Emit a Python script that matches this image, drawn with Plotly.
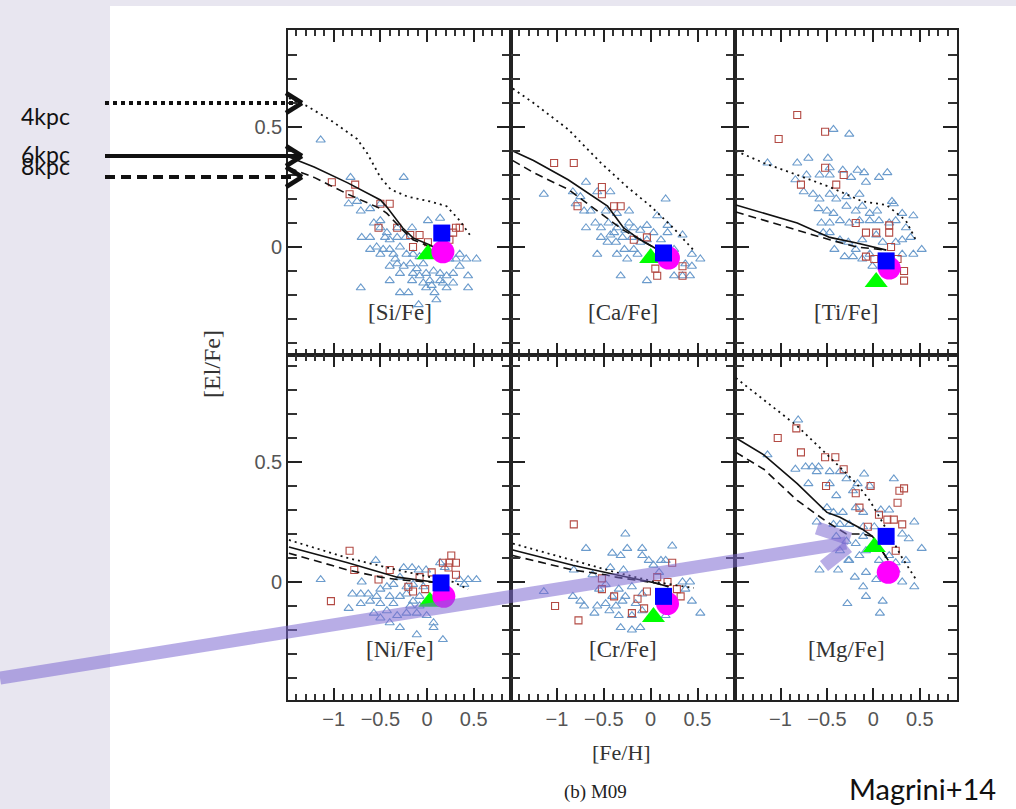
import plotly.graph_objects as go

W, H = 1016, 809

# ---------------- data ----------------
elements = ["Si", "Ca", "Ti", "Ni", "Cr", "Mg"]

# open blue triangles (field / Gaia-ESO stars)
tri_x = {
    "Si": [-1.14, -0.82, -0.25, -0.84, -0.75, -0.71, -0.61, -0.50, -0.70, -0.61, -0.57, -0.50, -0.43, -0.54, -0.47, -0.40,
           -0.36, -0.32, -0.29, -0.23, -0.16, -0.15, -0.40, -0.32, -0.25, -0.18, -0.11, -0.04, 0.01, 0.14, -0.08, -0.01,
           0.07, 0.14, 0.21, 0.28, 0.35, 0.42, 0.53, 0.35, 0.44, 0.28, 0.17, 0.05, -0.01, 0.08, 0.10, 0.21, -0.29, -0.20,
           -0.40, -0.71, 0.44, -0.08, -0.50, -0.29, -0.15, -0.09, 0.24, 0.31, -0.34, -0.22, 0.03, 0.14, -0.04, -0.16,
           -0.40, -0.45, -0.50, -0.61, -0.32],
    "Ca": [-1.14, -0.83, -0.69, -0.75, -0.57, -0.43, -0.80, -0.71, -0.64, -0.48, -0.36, -0.23, -0.69, -0.59, -0.53, -0.45,
           -0.39, -0.46, -0.37, -0.30, -0.23, -0.18, -0.11, -0.04, 0.03, 0.18, 0.07, 0.16, 0.18, 0.34, -0.57, -0.36,
           -0.28, -0.25, -0.18, -0.14, -0.11, -0.04, -0.32, -0.04, 0.25, 0.34, 0.42, 0.44, 0.53, 0.44, 0.37, -0.20,
           -0.43, -0.53, -0.36, -0.27, 0.11, 0.25],
    "Ti": [-0.43, -0.26, -1.14, -0.82, -0.70, -0.49, -0.47, -0.33, -0.17, -0.10, 0.06, 0.15, -0.84, -0.72, -0.58, -0.47,
           -0.24, -0.08, -0.75, -0.65, -0.58, -0.47, -0.40, -0.29, -0.15, -0.29, -0.19, -0.12, -0.04, 0.04, 0.20, 0.22,
           0.31, 0.43, 0.40, 0.52, 0.43, -0.59, -0.50, -0.43, -0.56, -0.47, -0.36, -0.26, -0.15, -0.04, 0.06, 0.17,
           0.24, 0.35, -0.42, -0.36, -0.27, -0.19, -0.12, -0.04, 0.03, 0.10, 0.24, 0.31, 0.31, -0.01, -0.12, -0.22,
           -0.31, -0.54, -0.47],
    "Ni": [-1.14, -0.84, -0.70, -0.55, -0.80, -0.71, -0.63, -0.54, -0.50, -0.43, -0.36, -0.25, -0.16, -0.09, -0.01, 0.14,
           0.19, 0.35, 0.44, 0.53, 0.40, -0.50, -0.43, -0.36, -0.29, -0.22, -0.15, -0.08, -0.32, -0.22, -0.11, -0.004,
           0.07, -0.40, -0.29, -0.11, 0.07, 0.17, -0.57, -0.50, -0.22, -0.15, -0.29, -0.04, -0.40, -0.18, -0.08, -0.61,
           -0.71],
    "Cr": [-0.27, -0.69, -0.41, -0.32, -0.25, -0.09, -0.09, 0.23, -0.02, 0.11, 0.16, -0.43, -0.29, -0.82, -0.62, 0.03,
           0.09, -1.14, -0.83, -0.75, -0.71, -0.60, -0.57, -0.48, -0.41, -0.34, -0.27, -0.20, -0.09, -0.48, -0.37, -0.34,
           -0.32, -0.20, -0.11, -0.20, -0.09, 0.34, 0.42, 0.37, 0.44, 0.53, 0.16, -0.44, -0.30, -0.16, -0.55],
    "Mg": [-0.81, -1.14, -0.84, -0.73, -0.66, -0.59, -0.70, -0.61, -0.47, -0.36, -0.47, -0.29, -0.10, 0.22, -0.17, -0.04,
           -0.22, -0.40, -0.50, -0.43, -0.33, -0.19, -0.11, 0.08, 0.17, -0.61, -0.43, -0.36, -0.26, -0.11, 0.01, 0.44,
           0.31, 0.38, 0.52, -0.40, -0.29, -0.19, -0.11, -0.36, -0.26, -0.15, -0.08, -0.58, -0.38, -0.27, -0.20, -0.08,
           0.03, 0.24, 0.31, 0.44, -0.11, -0.08, -0.28, 0.10, 0.07, 0.24, 0.17, 0.06, 0.35],
}
tri_y = {
    "Si": [0.446, 0.29, 0.29, 0.18, 0.19, 0.15, 0.16, 0.18, 0.04, 0.04, 0.10, 0.08, 0.06, 0.00, -0.01, 0.03,
           -0.03, 0.08, 0.00, 0.04, 0.08, -0.03, -0.08, -0.07, -0.08, -0.07, -0.09, -0.07, 0.11, 0.12, -0.12, -0.11,
           -0.10, -0.11, -0.12, -0.11, -0.08, -0.05, -0.05, -0.03, -0.12, -0.15, -0.15, -0.16, -0.17, -0.19, -0.22, -0.17,
           -0.19, -0.19, -0.14, -0.17, -0.17, -0.04, -0.03, -0.11, -0.11, -0.24, -0.05, -0.05, -0.05, -0.03, -0.14, -0.14,
           -0.15, -0.14, -0.01, 0.04, 0.11, -0.01, 0.04],
    "Ca": [0.22, 0.23, 0.27, 0.21, 0.23, 0.23, 0.18, 0.15, 0.15, 0.15, 0.14, 0.15, 0.08, 0.10, 0.08, 0.10,
           0.06, 0.02, 0.02, 0.04, 0.10, 0.08, 0.07, 0.09, 0.06, 0.06, 0.13, 0.20, 0.09, 0.05, -0.03, -0.03,
           -0.01, -0.05, -0.01, -0.03, 0.02, 0.03, -0.12, -0.14, -0.12, -0.12, -0.12, -0.08, -0.05, -0.03, -0.07, 0.04,
           0.05, 0.04, 0.08, 0.07, 0.03, -0.01],
    "Ti": [0.49, 0.47, 0.35, 0.35, 0.37, 0.37, 0.33, 0.32, 0.32, 0.31, 0.29, 0.31, 0.28, 0.30, 0.30, 0.30,
           0.29, 0.27, 0.23, 0.22, 0.20, 0.22, 0.20, 0.21, 0.22, 0.17, 0.15, 0.17, 0.14, 0.15, 0.19, 0.18,
           0.14, 0.13, 0.04, -0.01, -0.03, 0.16, 0.15, 0.14, 0.10, 0.10, 0.11, 0.10, 0.11, 0.11, 0.11, 0.10,
           0.11, 0.08, -0.01, 0.03, 0.02, -0.01, 0.03, -0.03, 0.05, 0.02, 0.02, 0.03, -0.03, -0.08, -0.05, -0.04,
           -0.04, 0.06, 0.06],
    "Ni": [0.01, -0.11, 0.00, 0.09, -0.05, -0.05, -0.05, -0.06, -0.03, -0.02, -0.01, 0.06, 0.06, 0.05, 0.05, 0.08,
           0.06, 0.01, 0.01, 0.01, -0.01, -0.09, -0.12, -0.09, -0.06, -0.05, -0.08, -0.06, -0.14, -0.13, -0.13, -0.14,
           -0.17, -0.17, -0.19, -0.22, -0.19, -0.24, -0.13, -0.15, -0.02, -0.01, 0.02, -0.02, -0.06, -0.10, -0.10, -0.08,
           -0.09],
    "Cr": [0.20, 0.14, 0.12, 0.11, 0.14, 0.14, 0.11, 0.15, 0.09, 0.09, 0.09, 0.06, 0.05, 0.05, 0.03, 0.07,
           0.04, -0.04, -0.06, -0.08, -0.10, -0.13, -0.10, -0.09, -0.06, -0.03, -0.06, -0.02, -0.05, -0.01, -0.10, -0.14,
           -0.19, -0.20, -0.19, -0.14, -0.12, 0.00, 0.00, -0.03, -0.08, -0.13, -0.14, -0.12, -0.08, -0.09, -0.03],
    "Mg": [0.675, 0.53, 0.47, 0.48, 0.48, 0.48, 0.41, 0.46, 0.46, 0.46, 0.41, 0.43, 0.45, 0.43, 0.41, 0.40,
           0.38, 0.36, 0.31, 0.29, 0.29, 0.31, 0.29, 0.30, 0.30, 0.25, 0.24, 0.24, 0.24, 0.23, 0.23, 0.25,
           0.20, 0.18, 0.14, 0.19, 0.17, 0.16, 0.19, 0.13, 0.09, 0.11, 0.13, 0.05, 0.05, 0.09, 0.02, 0.04,
           0.01, 0.05, 0.00, -0.02, -0.02, -0.06, -0.09, -0.08, -0.13, 0.08, 0.11, 0.09, 0.09],
}

# open red squares (open clusters)
sq_x = {
    "Si": [-1.02, -0.77, -0.83, -0.50, -0.40, -0.52, -0.32, -0.18, -0.08, -0.15, 0.01, 0.28, 0.31, 0.35, 0.24],
    "Ca": [-1.03, -0.82, -0.52, -0.52, -0.78, -0.39, -0.32, -0.18, -0.04, 0.07, 0.34, 0.34, 0.05],
    "Ti": [-0.82, -1.02, -0.52, -0.52, -0.32, -0.40, -0.78, -0.19, -0.08, 0.03, 0.17, -0.08, 0.01, 0.19, 0.26, 0.33,
           0.33, 0.17],
    "Ni": [-0.83, -0.78, -1.03, -0.52, -0.40, -0.20, -0.15, -0.08, 0.05, 0.17, 0.23, 0.26, 0.31, 0.24, 0.31, -0.02],
    "Cr": [-0.82, 0.23, -0.52, -0.52, -1.02, -0.77, -0.39, -0.14, -0.07, -0.20, -0.04, 0.18, 0.28, 0.32, 0.07],
    "Mg": [-1.03, -0.83, -0.78, -0.52, -0.41, -0.32, -0.51, -0.19, -0.03, -0.15, 0.06, 0.15, 0.22, 0.26, 0.28, 0.33,
           0.31, -0.06, 0.24],
}
sq_y = {
    "Si": [0.27, 0.26, 0.22, 0.18, 0.18, 0.08, 0.08, 0.05, 0.05, 0.00, 0.02, 0.06, 0.08, 0.08, 0.03],
    "Ca": [0.35, 0.35, 0.25, 0.22, 0.17, 0.17, 0.17, 0.03, 0.04, -0.12, -0.12, -0.08, -0.09],
    "Ti": [0.55, 0.45, 0.48, 0.33, 0.30, 0.26, 0.26, 0.10, 0.06, 0.06, 0.09, -0.04, -0.05, 0.00, -0.05, -0.10,
           -0.14, 0.06],
    "Ni": [0.13, 0.05, -0.08, 0.01, 0.05, -0.02, -0.04, 0.02, 0.04, 0.08, 0.06, 0.11, 0.08, 0.08, 0.03, -0.03],
    "Cr": [0.24, 0.08, 0.015, -0.03, -0.10, -0.16, -0.06, -0.07, -0.11, -0.13, -0.04, 0.00, -0.03, -0.06, 0.02],
    "Mg": [0.60, 0.64, 0.54, 0.52, 0.52, 0.47, 0.40, 0.37, 0.40, 0.31, 0.28, 0.26, 0.26, 0.33, 0.38, 0.39,
           0.24, 0.23, 0.13],
}

# chemical evolution model curves at 4, 6 and 8 kpc
m4_x = {"Si": [-1.48, -1.30, -1.04, -0.75, -0.64, -0.50, -0.39, -0.21, 0.03, 0.21, 0.35, 0.46],
        "Ca": [-1.47, -1.25, -0.88, -0.53, -0.25, 0.0, 0.24, 0.45],
        "Ti": [-1.48, -1.18, -0.82, -0.47, -0.12, 0.14, 0.35, 0.47],
        "Ni": [-1.48, -0.85, -0.32, 0.03, 0.28, 0.44],
        "Cr": [-1.47, -0.83, -0.37, 0.05, 0.46],
        "Mg": [-1.48, -1.18, -0.82, -0.47, -0.18, -0.04, 0.17, 0.31, 0.46]}
m4_y = {"Si": [0.62, 0.59, 0.53, 0.45, 0.39, 0.29, 0.24, 0.21, 0.19, 0.17, 0.11, 0.05],
        "Ca": [0.66, 0.60, 0.49, 0.35, 0.25, 0.17, 0.08, -0.01],
        "Ti": [0.40, 0.35, 0.30, 0.25, 0.19, 0.175, 0.11, 0.02],
        "Ni": [0.175, 0.10, 0.05, 0.02, 0.0, -0.03],
        "Cr": [0.16, 0.09, 0.04, 0.0, -0.025],
        "Mg": [0.85, 0.76, 0.65, 0.52, 0.41, 0.34, 0.20, 0.10, 0.01]}
m6_x = {"Si": [-1.48, -1.21, -0.85, -0.50, -0.43, -0.26, -0.15, 0.03, 0.17],
        "Ca": [-1.47, -1.25, -0.88, -0.46, -0.29, -0.11, 0.14],
        "Ti": [-1.48, -1.18, -0.82, -0.47, -0.18, 0.14],
        "Ni": [-1.48, -0.85, -0.32, 0.15],
        "Cr": [-1.47, -0.83, -0.37, 0.05, 0.19],
        "Mg": [-1.48, -1.18, -0.82, -0.50, -0.36, -0.12, -0.01, 0.16]}
m6_y = {"Si": [0.375, 0.333, 0.267, 0.196, 0.167, 0.079, 0.038, 0.008, -0.02],
        "Ca": [0.40, 0.36, 0.28, 0.17, 0.08, 0.03, -0.025],
        "Ti": [0.175, 0.14, 0.10, 0.04, 0.017, -0.013],
        "Ni": [0.146, 0.08, 0.02, -0.004],
        "Cr": [0.133, 0.07, 0.03, -0.004, -0.02],
        "Mg": [0.60, 0.53, 0.41, 0.29, 0.27, 0.22, 0.19, 0.09]}
m8_x = {"Si": [-1.48, -1.21, -0.85, -0.50, -0.43, -0.26, -0.15, 0.03, 0.17],
        "Ca": [-1.47, -1.25, -0.88, -0.56, -0.43, -0.29, -0.11, 0.14],
        "Ti": [-1.48, -1.18, -0.82, -0.47, -0.18, 0.14],
        "Ni": [-1.48, -0.85, -0.50, -0.32, 0.15],
        "Cr": [-1.47, -0.83, -0.48, -0.37, 0.05, 0.19],
        "Mg": [-1.48, -1.18, -0.82, -0.50, -0.29, -0.12, -0.01, 0.16]}
m8_y = {"Si": [0.33, 0.29, 0.22, 0.16, 0.14, 0.07, 0.03, 0.0, -0.02],
        "Ca": [0.36, 0.31, 0.24, 0.15, 0.11, 0.07, 0.03, -0.025],
        "Ti": [0.146, 0.11, 0.07, 0.03, 0.0, -0.013],
        "Ni": [0.12, 0.05, 0.02, 0.01, -0.004],
        "Cr": [0.11, 0.05, 0.03, 0.02, -0.004, -0.02],
        "Mg": [0.54, 0.47, 0.34, 0.25, 0.20, 0.20, 0.19, 0.09]}

# big reference symbols: (x, y)
blue_sq = {"Si": (0.158, 0.058), "Ca": (0.137, -0.025), "Ti": (0.137, -0.058),
           "Ni": (0.15, -0.004), "Cr": (0.137, -0.06), "Mg": (0.137, 0.19)}
magenta_c = {"Si": (0.17, -0.02), "Ca": (0.19, -0.046), "Ti": (0.17, -0.088),
             "Ni": (0.18, -0.06), "Cr": (0.18, -0.09), "Mg": (0.16, 0.04)}
green_t = {"Si": (0.01, -0.03), "Ca": (0.0, -0.046), "Ti": (0.03, -0.146),
           "Ni": (0.03, -0.083), "Cr": (0.03, -0.146), "Mg": (0.01, 0.146)}

# ---------------- layout geometry ----------------
col_px = [(288, 511), (511, 735), (735, 957)]
row_px = [(30, 355), (355, 700)]
XR = [-1.49, 0.90]
YR = [[-0.45, 0.904], [-0.492, 0.946]]


def fx(p):
    return p / W


def fy(p):
    return 1 - p / H


def axname(letter, i):
    return letter if i == 0 else f"{letter}{i+1}"


def axkey(letter, i):
    return f"{letter}axis" if i == 0 else f"{letter}axis{i+1}"


fig = go.Figure()

TRI_C = "#6b9bcc"
SQ_C = "#b34a43"

for i, el in enumerate(elements):
    xa, ya = axname("x", i), axname("y", i)
    fig.add_trace(go.Scatter(x=tri_x[el], y=tri_y[el], mode="markers", xaxis=xa, yaxis=ya,
                             marker=dict(symbol="triangle-up-open", size=8, color=TRI_C, line=dict(width=1.1)),
                             showlegend=False, hoverinfo="skip"))
    fig.add_trace(go.Scatter(x=sq_x[el], y=sq_y[el], mode="markers", xaxis=xa, yaxis=ya,
                             marker=dict(symbol="square-open", size=7, color=SQ_C, line=dict(width=1.1)),
                             showlegend=False, hoverinfo="skip"))
    for mx, my, dash, lw in ((m4_x, m4_y, "2px,4px", 1.8), (m6_x, m6_y, "solid", 1.6), (m8_x, m8_y, "8px,5px", 1.6)):
        fig.add_trace(go.Scatter(x=mx[el], y=my[el], mode="lines", xaxis=xa, yaxis=ya,
                                 line=dict(color="#111", width=lw, dash=dash),
                                 showlegend=False, hoverinfo="skip"))
    fig.add_trace(go.Scatter(x=[green_t[el][0]], y=[green_t[el][1]], mode="markers", xaxis=xa, yaxis=ya,
                             marker=dict(symbol="triangle-up", size=20, color="#00ff00"),
                             showlegend=False, hoverinfo="skip"))
    fig.add_trace(go.Scatter(x=[magenta_c[el][0]], y=[magenta_c[el][1]], mode="markers", xaxis=xa, yaxis=ya,
                             marker=dict(symbol="circle", size=23, color="#ff00ff"),
                             showlegend=False, hoverinfo="skip"))
    fig.add_trace(go.Scatter(x=[blue_sq[el][0]], y=[blue_sq[el][1]], mode="markers", xaxis=xa, yaxis=ya,
                             marker=dict(symbol="square", size=17, color="#0000ff"),
                             showlegend=False, hoverinfo="skip"))

tickfont = dict(family="Liberation Sans", size=20, color="#555")

layout_axes = {}
for i, el in enumerate(elements):
    r, c = divmod(i, 3)
    l, rr = col_px[c]
    t, b = row_px[r]
    layout_axes[axkey("x", i)] = dict(
        domain=[fx(l), fx(rr)], range=XR, anchor=axname("y", i),
        showline=True, linecolor="#222", linewidth=1.6, mirror="ticks",
        ticks="inside", ticklen=12, tickwidth=2, tickcolor="#222",
        tick0=0, dtick=0.5,
        minor=dict(ticks="inside", ticklen=6, tickwidth=1.6, tickcolor="#333", dtick=0.1),
        showgrid=False, zeroline=False, showticklabels=(r == 1), tickfont=tickfont)
    layout_axes[axkey("y", i)] = dict(
        domain=[fy(b), fy(t)], range=YR[r], anchor=axname("x", i),
        showline=True, linecolor="#222", linewidth=1.6, mirror="ticks",
        ticks="inside", ticklen=14, tickwidth=2, tickcolor="#222",
        tick0=0, dtick=0.5,
        minor=dict(ticks="inside", ticklen=9, tickwidth=1.6, tickcolor="#333", dtick=0.1),
        showgrid=False, zeroline=False, showticklabels=(c == 0), tickfont=tickfont)

C = dict(xanchor="center", yanchor="middle", showarrow=False)
annotations = []
for i, el in enumerate(elements):
    r, c = divmod(i, 3)
    annotations.append(dict(text=f"[{el}/Fe]", xref=axname("x", i) + " domain", yref=axname("y", i),
                            x=0.5, y=(-0.275 if r == 0 else -0.283),
                            font=dict(family="Liberation Serif", size=23, color="#333"), **C))

annotations += [
    dict(text="[El/Fe]", xref="paper", yref="paper", x=fx(212), y=fy(364), textangle=-90,
         font=dict(family="Liberation Serif", size=24, color="#333"), **C),
    dict(text="[Fe/H]", xref="paper", yref="paper", x=fx(621), y=fy(752),
         font=dict(family="Liberation Serif", size=22, color="#333"), **C),
    dict(text="(b) M09", xref="paper", yref="paper", x=fx(595), y=fy(792),
         font=dict(family="Liberation Serif", size=19, color="#222"), **C),
    dict(text="Magrini+14", xref="paper", yref="paper", x=fx(922), y=fy(788),
         font=dict(family="Lato", size=29, color="#111"), **C),
    dict(text="4kpc", xref="paper", yref="paper", x=fx(45), y=fy(116),
         font=dict(family="Lato", size=23, color="#111"), **C),
    dict(text="6kpc", xref="paper", yref="paper", x=fx(45), y=fy(154),
         font=dict(family="Lato", size=23, color="#111"), **C),
    dict(text="8kpc", xref="paper", yref="paper", x=fx(45), y=fy(166),
         font=dict(family="Lato", size=23, color="#111"), **C),
]

LAV = "#e8e6f0"
shapes = [
    # slide background around the pasted figure (kept away from the axes)
    dict(type="rect", xref="paper", yref="paper", x0=0, x1=fx(110), y0=0, y1=1,
         fillcolor=LAV, line=dict(width=0), layer="below"),
    dict(type="rect", xref="paper", yref="paper", x0=fx(110), x1=1, y0=fy(6), y1=1,
         fillcolor=LAV, line=dict(width=0), layer="below"),
]


def seg(x0, y0, x1, y1, color, width, dash="solid"):
    return dict(type="line", xref="paper", yref="paper", x0=fx(x0), y0=fy(y0), x1=fx(x1), y1=fy(y1),
                line=dict(color=color, width=width, dash=dash), layer="above")


# radius key arrows on the left
shapes += [
    seg(105, 103, 296, 103, "#111", 4, "4px,4px"),
    seg(286, 93, 302, 103, "#111", 4.5), seg(302, 103, 286, 113, "#111", 4.5),
    seg(105, 156, 298, 156, "#111", 4),
    seg(286, 146, 302, 156, "#111", 4.5), seg(302, 156, 286, 166, "#111", 4.5),
    seg(105, 177, 296, 177, "#111", 4, "10px,6px"),
    seg(286, 167, 302, 177, "#111", 4.5), seg(302, 177, 286, 187, "#111", 4.5),
]

# lavender highlight arrow
PC = "rgba(125,105,210,0.55)"
shapes += [
    seg(0, 678, 846, 543, PC, 13),
    seg(817, 528, 850, 539, PC, 13),
    seg(824, 566, 848, 547, PC, 13),
]

fig.update_layout(
    width=W, height=H, margin=dict(l=0, r=0, t=0, b=0),
    paper_bgcolor="white", plot_bgcolor="white",
    annotations=annotations, shapes=shapes, showlegend=False,
    **layout_axes,
)

fig.write_html("out.html")
